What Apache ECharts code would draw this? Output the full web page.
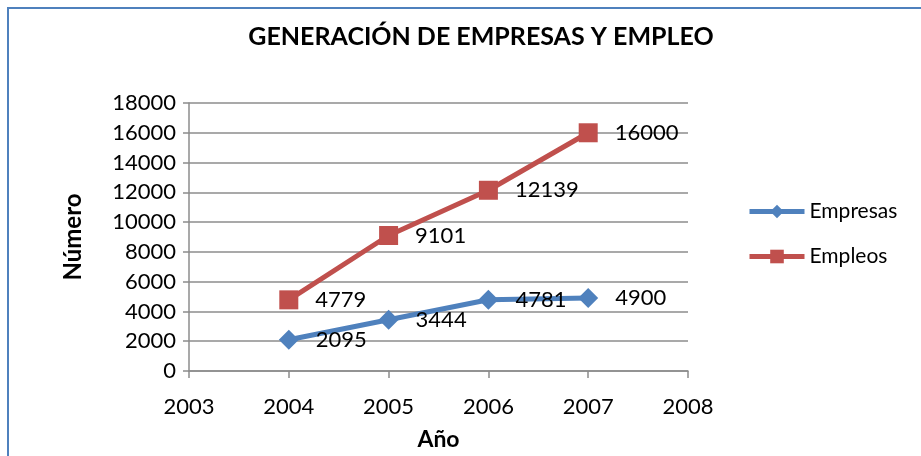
<!DOCTYPE html>
<html>
<head>
<meta charset="utf-8">
<script src="https://cdn.jsdelivr.net/npm/echarts@6/dist/echarts.min.js"></script>
<style>html,body{margin:0;padding:0;background:#fff}#c{width:921px;height:456px}</style>
</head>
<body>
<div id="c"></div>
<script>
const years = [2004, 2005, 2006, 2007];
const empresas = [2095, 3444, 4781, 4900];
const empleos = [4779, 9101, 12139, 16000];
const seriesNames = ['Empresas', 'Empleos'];
const titleText = 'GENERACIÓN DE EMPRESAS Y EMPLEO';
const xAxisName = 'Año';
const yAxisName = 'Número';

const font = 'Lato, "Open Sans", sans-serif';
const chart = echarts.init(document.getElementById('c'));
const toPts = (vals) => years.map((y, i) => [y, vals[i]]);
const lbl = {
  show: true, position: 'right', distance: 17,
  fontFamily: font, fontSize: 22, color: '#000',
  formatter: (p) => String(p.value[1])
};
chart.setOption({
  animation: false,
  backgroundColor: '#fff',
  graphic: [{
    type: 'rect', shape: { x: 8, y: 8, width: 1000, height: 600 },
    style: { fill: 'none', stroke: '#4f81bd', lineWidth: 2 }
  }],
  title: {
    text: titleText, left: 476, top: 19, textAlign: 'center',
    textStyle: { fontFamily: font, fontWeight: 'bold', fontSize: 25, color: '#000' }
  },
  legend: {
    orient: 'vertical', left: 742, top: 196, itemGap: 24,
    itemWidth: 55, itemHeight: 17,
    lineStyle: { width: 5 },
    textStyle: { fontFamily: font, fontSize: 21, color: '#000' },
    data: seriesNames
  },
  grid: { left: 189, right: 233, top: 103, bottom: 83 },
  xAxis: {
    type: 'value', min: 2003, max: 2008, interval: 1,
    name: xAxisName, nameLocation: 'middle', nameGap: 57,
    nameTextStyle: { fontFamily: font, fontWeight: 'bold', fontSize: 23, color: '#000' },
    axisLine: { lineStyle: { color: '#8c8c8c', width: 1.5 } },
    axisTick: { show: true, length: 7, lineStyle: { color: '#8c8c8c', width: 1.5 } },
    axisLabel: { fontFamily: font, fontSize: 22, color: '#000', margin: 25, formatter: (v) => String(v) },
    splitLine: { show: false }
  },
  yAxis: {
    type: 'value', min: 0, max: 18000, interval: 2000,
    name: yAxisName, nameLocation: 'middle', nameGap: 104, nameRotate: 90,
    nameTextStyle: { fontFamily: font, fontWeight: 'bold', fontSize: 24, color: '#000' },
    axisLine: { show: true, lineStyle: { color: '#8c8c8c', width: 1.5 } },
    axisTick: { show: true, length: 6, inside: false, lineStyle: { color: '#8c8c8c', width: 1.5 } },
    axisLabel: { fontFamily: font, fontSize: 22, color: '#000', margin: 13, formatter: (v) => String(v) },
    splitLine: { show: true, lineStyle: { color: '#8c8c8c', width: 1.5 } }
  },
  series: [
    {
      name: seriesNames[0], type: 'line', data: toPts(empresas),
      symbol: 'diamond', symbolSize: 20,
      lineStyle: { color: '#4f81bd', width: 5 },
      itemStyle: { color: '#4f81bd' },
      label: lbl, z: 3
    },
    {
      name: seriesNames[1], type: 'line', data: toPts(empleos),
      symbol: 'rect', symbolSize: 19,
      lineStyle: { color: '#c0504d', width: 5 },
      itemStyle: { color: '#c0504d' },
      label: lbl, z: 2
    }
  ]
});
</script>
</body>
</html>
